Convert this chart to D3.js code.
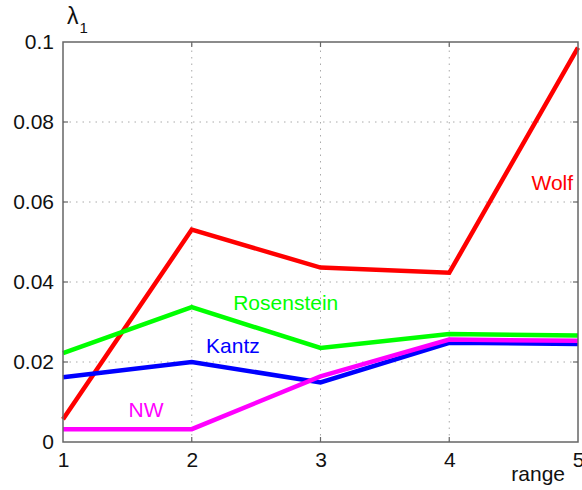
<!DOCTYPE html>
<html><head><meta charset="utf-8">
<script src="https://cdn.jsdelivr.net/npm/d3@7"></script>
<style>body{margin:0;background:#fff}svg{display:block}</style>
</head><body>
<script>
const ranges = [1, 2, 3, 4, 5];
const yTicks = [0, 0.02, 0.04, 0.06, 0.08, 0.1];
const yTickLabels = ["0", "0.02", "0.04", "0.06", "0.08", "0.1"];
const seriesNames = ["Wolf", "Rosenstein", "Kantz", "NW"];
const seriesColors = ["#ff0000", "#00ff00", "#0000ff", "#ff00ff"];
const wolf = [0.0057, 0.0531, 0.0436, 0.0423, 0.0986];
const rosenstein = [0.0222, 0.0337, 0.0235, 0.0270, 0.0266];
const kantz = [0.0162, 0.0200, 0.0149, 0.0248, 0.0245];
const nw = [0.0032, 0.0032, 0.0164, 0.0256, 0.0253];
const seriesValues = [wolf, rosenstein, kantz, nw];
const labelPos = [[4.8, 0.063], [2.73, 0.033], [2.32, 0.0222], [1.645, 0.0063]];

const W = 582, H = 490;
const m = {l: 63, r: 4, t: 42, b: 48};
const FF = "Helvetica, Arial, 'Liberation Sans', sans-serif";
const svg = d3.select("body").append("svg").attr("width", W).attr("height", H)
  .style("font-family", FF);
const x = d3.scaleLinear().domain([1, 5]).range([m.l, W - m.r]);
const y = d3.scaleLinear().domain([0, 0.1]).range([H - m.b, m.t]);
const axCol = "#666";

// grid
const g = svg.append("g");
g.selectAll(".gx").data(ranges.slice(1, -1)).join("line")
  .attr("x1", d => x(d)).attr("x2", d => x(d)).attr("y1", y(0)).attr("y2", y(0.1))
  .attr("stroke", "#aaa").attr("stroke-width", 1).attr("stroke-dasharray", "1.5,5");
g.selectAll(".gy").data(yTicks.slice(1, -1)).join("line")
  .attr("y1", d => y(d)).attr("y2", d => y(d)).attr("x1", x(1)).attr("x2", x(5))
  .attr("stroke", "#aaa").attr("stroke-width", 1).attr("stroke-dasharray", "1.5,5");

// lines
const line = d3.line().x((d, i) => x(ranges[i])).y(d => y(d));
seriesValues.forEach((vals, k) => {
  svg.append("path").datum(vals).attr("d", line).attr("fill", "none")
    .attr("stroke", seriesColors[k]).attr("stroke-width", 4.5).attr("stroke-linejoin", "miter");
});

// axes box
const tickLen = 5;
const axB = d3.axisBottom(x).tickValues(ranges).tickFormat(d3.format("d")).tickSize(0).tickPadding(9);
const axL = d3.axisLeft(y).tickValues(yTicks).tickFormat((d, i) => yTickLabels[i]).tickSize(0).tickPadding(9);
const gb = svg.append("g").attr("transform", `translate(0,${y(0)})`).call(axB);
const gl = svg.append("g").attr("transform", `translate(${x(1)},0)`).call(axL);
[gb, gl].forEach(a => {
  a.select(".domain").remove();
  a.selectAll("text").attr("font-size", 21).attr("fill", "#111").style("font-family", FF);
});
gb.selectAll("text").attr("dy", "0.75em");
svg.append("rect").attr("x", x(1)).attr("y", y(0.1)).attr("width", x(5) - x(1)).attr("height", y(0) - y(0.1))
  .attr("fill", "none").attr("stroke", axCol).attr("stroke-width", 1.5);
// inward ticks
const tk = svg.append("g").attr("stroke", axCol).attr("stroke-width", 1.2);
ranges.slice(1, -1).forEach(d => {
  tk.append("line").attr("x1", x(d)).attr("x2", x(d)).attr("y1", y(0)).attr("y2", y(0) - tickLen);
  tk.append("line").attr("x1", x(d)).attr("x2", x(d)).attr("y1", y(0.1)).attr("y2", y(0.1) + tickLen);
});
yTicks.slice(1, -1).forEach(d => {
  tk.append("line").attr("y1", y(d)).attr("y2", y(d)).attr("x1", x(1)).attr("x2", x(1) + tickLen);
  tk.append("line").attr("y1", y(d)).attr("y2", y(d)).attr("x1", x(5)).attr("x2", x(5) - tickLen);
});

// axis labels
svg.append("text").attr("x", 565).attr("y", 481).attr("text-anchor", "end")
  .attr("font-size", 21).attr("fill", "#111").text("range");
const lam = svg.append("text").attr("x", 67).attr("y", 24).attr("font-size", 23).attr("fill", "#111");
lam.append("tspan").text("λ");
lam.append("tspan").attr("font-size", 15).attr("dy", 9).attr("dx", 1).text("1");

// series labels
seriesNames.forEach((n, k) => {
  svg.append("text").attr("x", x(labelPos[k][0])).attr("y", y(labelPos[k][1]))
    .attr("text-anchor", "middle").attr("font-size", 21).attr("fill", seriesColors[k]).text(n);
});
</script>
</body></html>
